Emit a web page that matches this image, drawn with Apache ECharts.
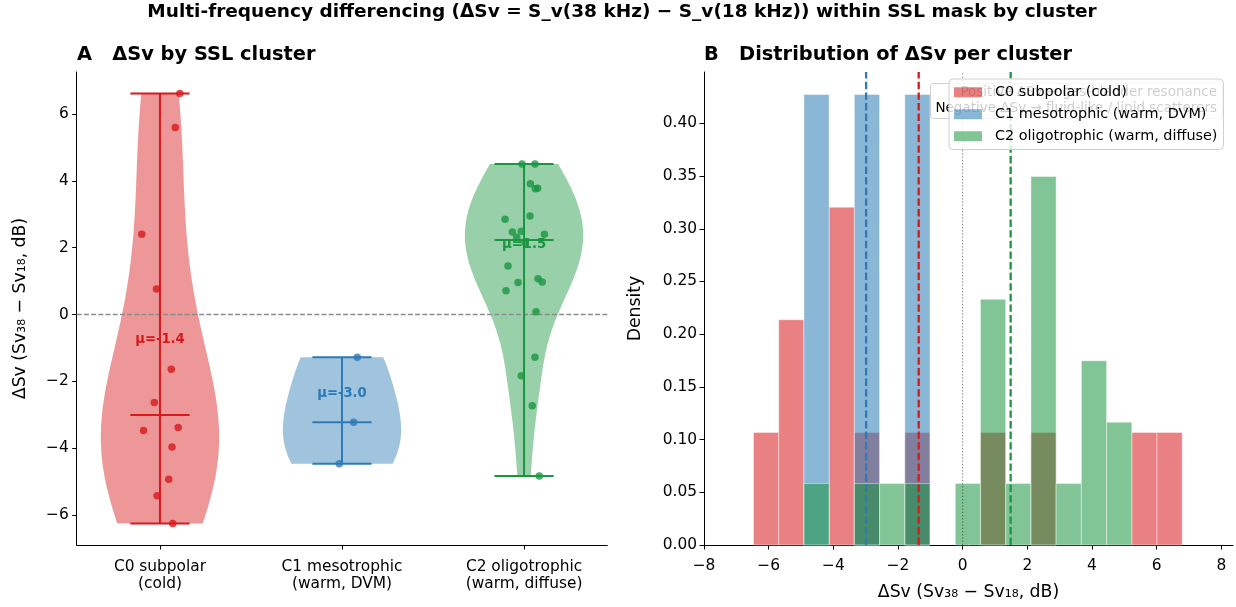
<!DOCTYPE html>
<html><head><meta charset="utf-8">
<script src="https://cdn.jsdelivr.net/npm/echarts@6/dist/echarts.min.js"></script>
<style>html,body{margin:0;padding:0;background:#fff}#c{width:1236px;height:607px}</style>
</head><body><div id="c"></div>
<script>
// ---------------- data ----------------
const categories = ['C0 subpolar\n(cold)', 'C1 mesotrophic\n(warm, DVM)', 'C2 oligotrophic\n(warm, diffuse)'];
const legendNames = ['C0 subpolar (cold)', 'C1 mesotrophic (warm, DVM)', 'C2 oligotrophic (warm, diffuse)'];
const clusterColors = ['#d7191c', '#2c7bb6', '#1a9641'];
const positions = [0, 1, 2];
// ΔSv values per cluster (dB)
const c0Values = [6.61, 5.59, 2.40, 0.76, -1.64, -2.63, -3.47, -3.38, -3.96, -4.93, -5.42, -6.25];
const c1Values = [-1.28, -3.22, -4.46];
const c2Values = [4.50, 4.50, 3.91, 3.76, 3.78, 2.95, 2.85, 2.47, 2.49, 2.31, 2.40, 2.15, 1.45, 0.96, 1.07, 0.97, 0.71, 0.08, -1.28, -1.83, -2.73, -4.83];
// horizontal jitter of the strip points (category units)
const c0Jitter = [0.109, 0.084, -0.100, -0.019, 0.062, -0.031, -0.090, 0.100, 0.066, 0.048, -0.016, 0.070];
const c1Jitter = [0.084, 0.064, -0.015];
const c2Jitter = [-0.011, 0.060, 0.035, 0.062, 0.075, 0.033, -0.104, -0.064, -0.015, -0.040, 0.112, 0.005, -0.088, -0.033, 0.077, 0.100, -0.099, 0.066, 0.060, -0.015, 0.045, 0.084];
// histogram bins
const binStart = -6.47;
const binWidth = 0.78;
const binCount = 17;
// tick labels
const leftYTicks = [-6, -4, -2, 0, 2, 4, 6];
const rightXTicks = [-8, -6, -4, -2, 0, 2, 4, 6, 8];
const rightYTicks = [0, 0.05, 0.10, 0.15, 0.20, 0.25, 0.30, 0.35, 0.40];

const mainTitle = 'Multi-frequency differencing (ΔSv = S_v(38 kHz) − S_v(18 kHz)) within SSL mask by cluster';
const titleA = 'A   ΔSv by SSL cluster';
const titleB = 'B   Distribution of ΔSv per cluster';
const dsvLabel = 'ΔSv (Sv₃₈ − Sv₁₈, dB)';
const noteText = 'Positive ΔSv → gas-bladder resonance\nNegative ΔSv → fluid-like / lipid scatterers';

// ---------------- helpers ----------------
const FONT = 'DejaVu Sans';
const clusterValues = [c0Values, c1Values, c2Values];
const clusterJitter = [c0Jitter, c1Jitter, c2Jitter];
const violinWidth = 0.65;

function stats(v) {
  const n = v.length;
  const mean = v.reduce((a, b) => a + b, 0) / n;
  const s = [...v].sort((a, b) => a - b);
  const med = n % 2 ? s[(n - 1) / 2] : (s[n / 2 - 1] + s[n / 2]) / 2;
  const sd = Math.sqrt(v.reduce((a, b) => a + (b - mean) * (b - mean), 0) / (n - 1));
  return { n, mean, med, sd, min: s[0], max: s[n - 1] };
}
function kdeProfile(v) {
  const st = stats(v);
  const bw = st.sd * Math.pow(st.n, -0.2);
  const out = [];
  for (let k = 0; k < 100; k++) {
    const y = st.min + (st.max - st.min) * k / 99;
    let d = 0;
    for (const x of v) { const z = (y - x) / bw; d += Math.exp(-0.5 * z * z); }
    out.push([y, d]);
  }
  const mx = Math.max(...out.map(o => o[1]));
  return out.map(o => [o[0], o[1] / mx * violinWidth / 2]);
}
function histDensity(v) {
  const counts = new Array(binCount).fill(0);
  v.forEach(x => {
    let k = Math.floor((x - binStart) / binWidth);
    if (k === binCount) k = binCount - 1;
    if (k >= 0 && k < binCount) counts[k]++;
  });
  const out = [];
  counts.forEach((c, k) => {
    if (c > 0) out.push([binStart + k * binWidth, binStart + (k + 1) * binWidth, c / (v.length * binWidth)]);
  });
  return out;
}
const minus = v => (v < 0 ? '−' : '') + Math.abs(v);
function rgba(hex, a) {
  const n = parseInt(hex.slice(1), 16);
  return `rgba(${n >> 16},${(n >> 8) & 255},${n & 255},${a})`;
}

const allVals = [].concat(...clusterValues);
const vMin = Math.min(...allVals), vMax = Math.max(...allVals);
const leftYMin = vMin - 0.05 * (vMax - vMin), leftYMax = vMax + 0.05 * (vMax - vMin);
const leftXMin = -0.5 * violinWidth - 0.05 * (2 + violinWidth);
const leftXMax = 2 + 0.5 * violinWidth + 0.05 * (2 + violinWidth);
const hists = clusterValues.map(histDensity);
const histMax = Math.max(...[].concat(...hists).map(h => h[2]));
const rightYMax = histMax * 1.05;
const rightXMin = -8, rightXMax = 8.36;

const tickStyle = { show: true, length: 4.5, lineStyle: { color: '#000', width: 1 } };
const axLine = { show: true, onZero: false, lineStyle: { color: '#000', width: 1 } };
const labelStyle = { color: '#000', fontFamily: FONT, fontSize: 15.4 };
const nameStyle = { color: '#000', fontFamily: FONT, fontSize: 17.3 };

const series = [];
// violin bodies
series.push({
  type: 'custom', xAxisIndex: 0, yAxisIndex: 0, silent: true, z: 2,
  data: positions.map(p => [p, 0]), encode: { x: 0, y: 1 },
  renderItem: (params, api) => {
    const i = params.dataIndex, p = positions[i];
    const prof = kdeProfile(clusterValues[i]);
    const pts = [];
    prof.forEach(([y, w]) => pts.push(api.coord([p + w, y])));
    for (let k = prof.length - 1; k >= 0; k--) pts.push(api.coord([p - prof[k][1], prof[k][0]]));
    return { type: 'polygon', shape: { points: pts }, style: { fill: clusterColors[i], opacity: 0.45 } };
  }
});
// zero line
series.push({
  type: 'line', xAxisIndex: 0, yAxisIndex: 0, silent: true, z: 3, symbol: 'none',
  data: [[leftXMin, 0], [leftXMax, 0]],
  lineStyle: { color: '#8c8c8c', width: 1.3, type: [5, 2.2] }
});
// cbars (min, max, median)
series.push({
  type: 'custom', xAxisIndex: 0, yAxisIndex: 0, silent: true, z: 4,
  data: positions.map(p => [p, 0]), encode: { x: 0, y: 1 },
  renderItem: (params, api) => {
    const i = params.dataIndex, p = positions[i];
    const st = stats(clusterValues[i]);
    const hw = violinWidth / 4;
    const seg = (x0, y0, x1, y1) => {
      const a = api.coord([x0, y0]), b = api.coord([x1, y1]);
      return { type: 'line', shape: { x1: a[0], y1: a[1], x2: b[0], y2: b[1] }, style: { stroke: clusterColors[i], lineWidth: 2 } };
    };
    return { type: 'group', children: [
      seg(p, st.min, p, st.max), seg(p - hw, st.min, p + hw, st.min),
      seg(p - hw, st.max, p + hw, st.max), seg(p - hw, st.med, p + hw, st.med)
    ] };
  }
});
// strip points
clusterValues.forEach((vals, i) => {
  series.push({
    type: 'scatter', xAxisIndex: 0, yAxisIndex: 0, silent: true, z: 5,
    symbolSize: 7.5,
    itemStyle: { color: clusterColors[i], opacity: 0.8 },
    data: vals.map((v, k) => [positions[i] + clusterJitter[i][k], v])
  });
});
// mean labels
series.push({
  type: 'custom', xAxisIndex: 0, yAxisIndex: 0, silent: true, z: 6,
  data: positions.map(p => [p, 0]), encode: { x: 0, y: 1 },
  renderItem: (params, api) => {
    const i = params.dataIndex;
    const m = stats(clusterValues[i]).mean;
    const c = api.coord([positions[i], m + 0.62]);
    return { type: 'text', x: c[0], y: c[1], style: { text: 'μ=' + m.toFixed(1), fill: clusterColors[i], font: 'bold 13.2px ' + FONT, align: 'center', verticalAlign: 'middle' } };
  }
});
// histograms
hists.forEach((h, i) => {
  series.push({
    type: 'custom', name: legendNames[i], xAxisIndex: 1, yAxisIndex: 1, silent: true, z: 2 + i * 0.01,
    itemStyle: { color: clusterColors[i] },
    data: h, encode: { x: [0, 1], y: 2 },
    renderItem: (params, api) => {
      const a = api.coord([api.value(0), api.value(2)]);
      const b = api.coord([api.value(1), 0]);
      return { type: 'rect', shape: { x: a[0], y: a[1], width: b[0] - a[0], height: b[1] - a[1] },
        style: { fill: clusterColors[i], stroke: '#fff', lineWidth: 0.8, opacity: 0.55 } };
    }
  });
});
// zero dotted line
series.push({
  type: 'line', xAxisIndex: 1, yAxisIndex: 1, silent: true, z: 3, symbol: 'none',
  data: [[0, 0], [0, rightYMax]],
  lineStyle: { color: 'rgba(0,0,0,0.55)', width: 1, type: [1.2, 2] }
});
// mean lines
clusterValues.forEach((vals, i) => {
  const m = stats(vals).mean;
  series.push({
    type: 'line', xAxisIndex: 1, yAxisIndex: 1, silent: true, z: 4, symbol: 'none',
    data: [[m, 0], [m, rightYMax]],
    lineStyle: { color: clusterColors[i], width: 2.3, type: [7.4, 3.2] }
  });
});

const option = {
  animation: false,
  backgroundColor: '#fff',
  textStyle: { fontFamily: FONT },
  grid: [
    { left: 76.7, top: 72, width: 530.6, height: 473 },
    { left: 704, top: 72, width: 529, height: 473 }
  ],
  xAxis: [
    { type: 'value', gridIndex: 0, min: leftXMin, max: leftXMax,
      axisLine: axLine, splitLine: { show: false },
      axisTick: Object.assign({ customValues: positions }, tickStyle),
      axisLabel: Object.assign({ customValues: positions, margin: 13, lineHeight: 17.5, formatter: v => categories[Math.round(v)] }, labelStyle) },
    { type: 'value', gridIndex: 1, min: rightXMin, max: rightXMax,
      axisLine: axLine, splitLine: { show: false },
      axisTick: Object.assign({ customValues: rightXTicks }, tickStyle),
      axisLabel: Object.assign({ customValues: rightXTicks, margin: 13, formatter: minus }, labelStyle),
      name: dsvLabel, nameLocation: 'middle', nameGap: 39, nameTextStyle: nameStyle }
  ],
  yAxis: [
    { type: 'value', gridIndex: 0, min: leftYMin, max: leftYMax,
      axisLine: axLine, splitLine: { show: false },
      axisTick: Object.assign({ customValues: leftYTicks }, tickStyle),
      axisLabel: Object.assign({ customValues: leftYTicks, margin: 8, formatter: minus }, labelStyle),
      name: dsvLabel, nameLocation: 'middle', nameGap: 48, nameTextStyle: nameStyle },
    { type: 'value', gridIndex: 1, min: 0, max: rightYMax,
      axisLine: axLine, splitLine: { show: false },
      axisTick: Object.assign({ customValues: rightYTicks }, tickStyle),
      axisLabel: Object.assign({ customValues: rightYTicks, margin: 7, formatter: v => v.toFixed(2) }, labelStyle),
      name: 'Density', nameLocation: 'middle', nameGap: 60, nameTextStyle: nameStyle }
  ],
  legend: {
    show: true, z: 10, orient: 'vertical', left: 949, top: 79,
    padding: [6, 6, 6, 5], itemWidth: 28, itemHeight: 10, itemGap: 7.5,
    backgroundColor: 'rgba(255,255,255,0.8)', borderColor: '#cfcfcf', borderWidth: 1, borderRadius: 4,
    selectedMode: false,
    textStyle: { color: '#000', fontFamily: FONT, fontSize: 14.4, lineHeight: 14.5, padding: [0, 0, 0, 8] },
    data: legendNames.map((n, i) => ({ name: n, icon: 'rect', itemStyle: { color: rgba(clusterColors[i], 0.55), borderWidth: 0 } }))
  },
  graphic: [
    { type: 'text', z: 20, style: { text: mainTitle, x: 622, y: 12, align: 'center', verticalAlign: 'middle', font: 'bold 18.5px ' + FONT, fill: '#000' } },
    { type: 'text', z: 20, style: { text: titleA, x: 77, y: 55, align: 'left', verticalAlign: 'middle', font: 'bold 19.4px ' + FONT, fill: '#000' } },
    { type: 'text', z: 20, style: { text: titleB, x: 704, y: 55, align: 'left', verticalAlign: 'middle', font: 'bold 19.4px ' + FONT, fill: '#000' } },
    { type: 'rect', z: 5, shape: { x: 930.5, y: 83.5, width: 292, height: 35, r: 3 }, style: { fill: 'rgba(255,255,255,0.8)', stroke: '#cfcfcf', lineWidth: 1 } },
    { type: 'text', z: 6, style: { text: noteText, x: 1217, y: 84.5, align: 'right', verticalAlign: 'top', font: '13.5px ' + FONT, lineHeight: 16.2, fill: '#000' } }
  ],
  series: series
};
const chart = echarts.init(document.getElementById('c'));
chart.setOption(option);
</script>
</body></html>
